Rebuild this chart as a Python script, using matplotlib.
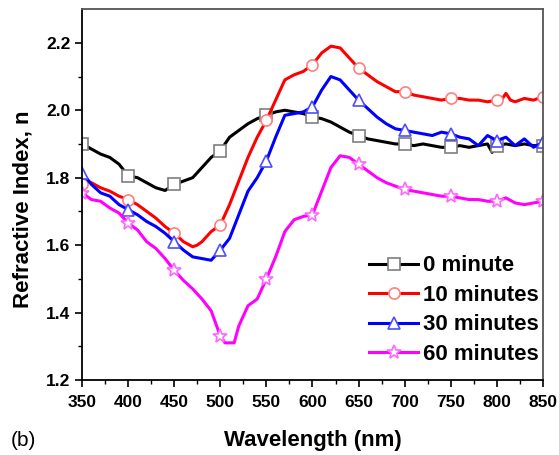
import matplotlib
matplotlib.use("Agg")
import matplotlib.pyplot as plt
import numpy as np

plt.rcParams['font.family'] = ['Liberation Sans', 'DejaVu Sans']

# refractive index vs wavelength for each exposure time
wl_0 = [350, 360, 370, 380, 390, 400, 410, 420, 430, 440, 450, 460, 470, 480, 490,
        500, 510, 520, 530, 540, 550, 560, 570, 580, 590, 600, 610, 620, 630, 640,
        650, 660, 670, 680, 690, 700, 710, 720, 730, 740, 750, 760, 770, 780, 790,
        795, 800, 810, 820, 830, 840, 850]
n_0 = [1.90, 1.885, 1.87, 1.86, 1.84, 1.805, 1.80, 1.785, 1.77, 1.762, 1.78, 1.79,
       1.80, 1.83, 1.86, 1.88, 1.92, 1.94, 1.96, 1.975, 1.985, 1.995, 2.00, 1.995,
       1.99, 1.98, 1.975, 1.965, 1.95, 1.935, 1.925, 1.915, 1.91, 1.905, 1.90, 1.90,
       1.895, 1.90, 1.895, 1.89, 1.89, 1.895, 1.89, 1.895, 1.90, 1.875, 1.895, 1.90,
       1.895, 1.90, 1.895, 1.895]

wl_10 = [350, 355, 360, 370, 380, 390, 400, 410, 420, 430, 440, 450, 460, 470, 475,
         480, 490, 500, 510, 520, 530, 540, 550, 560, 570, 580, 590, 600, 610, 620,
         630, 640, 650, 660, 670, 680, 690, 700, 710, 720, 730, 740, 750, 760, 770,
         780, 790, 800, 805, 810, 815, 820, 830, 840, 850]
n_10 = [1.78, 1.79, 1.785, 1.77, 1.76, 1.745, 1.735, 1.72, 1.70, 1.68, 1.655, 1.635,
        1.61, 1.595, 1.60, 1.61, 1.64, 1.66, 1.72, 1.79, 1.86, 1.92, 1.97, 2.03, 2.09,
        2.105, 2.115, 2.135, 2.17, 2.19, 2.185, 2.155, 2.125, 2.105, 2.085, 2.07,
        2.055, 2.055, 2.045, 2.04, 2.035, 2.03, 2.035, 2.035, 2.03, 2.03, 2.025, 2.03,
        2.03, 2.05, 2.03, 2.025, 2.035, 2.03, 2.04]

wl_30 = [350, 360, 370, 380, 390, 400, 410, 420, 430, 440, 450, 460, 470, 480, 490,
         500, 510, 520, 530, 540, 550, 560, 570, 580, 590, 600, 610, 620, 630, 640,
         650, 660, 670, 680, 690, 700, 710, 720, 730, 740, 750, 760, 770, 780, 790,
         800, 810, 820, 830, 840, 850]
n_30 = [1.815, 1.78, 1.755, 1.745, 1.72, 1.705, 1.69, 1.67, 1.655, 1.635, 1.61, 1.585,
        1.565, 1.56, 1.555, 1.585, 1.62, 1.69, 1.76, 1.80, 1.85, 1.92, 1.985, 1.99,
        1.995, 2.01, 2.06, 2.10, 2.09, 2.06, 2.03, 2.005, 1.98, 1.96, 1.945, 1.94,
        1.935, 1.93, 1.925, 1.935, 1.93, 1.92, 1.915, 1.895, 1.925, 1.91, 1.92, 1.895,
        1.915, 1.89, 1.905]

wl_60 = [350, 360, 370, 380, 390, 400, 410, 420, 430, 440, 450, 460, 470, 480, 490,
         500, 505, 515, 520, 530, 540, 550, 560, 570, 580, 590, 600, 610, 620, 630,
         640, 650, 660, 670, 680, 690, 700, 710, 720, 730, 740, 750, 760, 770, 780,
         790, 800, 810, 820, 830, 840, 850]
n_60 = [1.755, 1.735, 1.73, 1.71, 1.695, 1.665, 1.645, 1.61, 1.59, 1.56, 1.525, 1.495,
        1.47, 1.44, 1.405, 1.33, 1.31, 1.31, 1.36, 1.42, 1.44, 1.50, 1.565, 1.64,
        1.675, 1.685, 1.69, 1.76, 1.83, 1.865, 1.86, 1.84, 1.82, 1.80, 1.785, 1.775,
        1.765, 1.76, 1.755, 1.75, 1.745, 1.745, 1.74, 1.735, 1.735, 1.73, 1.73, 1.74,
        1.725, 1.72, 1.725, 1.73]

marker_wl = [350, 400, 450, 500, 550, 600, 650, 700, 750, 800, 850]

series = [
    (wl_0, n_0, '0 minute', 'black', 's', '#7f7f7f'),
    (wl_10, n_10, '10 minutes', 'red', 'o', '#ff7f7f'),
    (wl_30, n_30, '30 minutes', 'blue', '^', '#4d4dff'),
    (wl_60, n_60, '60 minutes', 'magenta', '*', '#ff66ff'),
]

fig = plt.figure(figsize=(5.59, 4.55), dpi=100)
ax = fig.add_axes([0.147, 0.165, 0.824, 0.815])

for wl, n, lab, col, mk, mec in series:
    wl = np.array(wl)
    idx = np.where(np.isin(wl, marker_wl))[0].tolist()
    ms = 10.5 if mk == '*' else 8
    ax.plot(wl, n, color=col, lw=2.2, marker=mk, markevery=idx, ms=ms,
            mfc='white', mec=mec, mew=1.2, label=lab)

ax.set_xlim(350, 850)
ax.set_ylim(1.2, 2.3)
ax.set_xticks(np.arange(350, 851, 50))
ax.set_xticks(np.arange(375, 850, 50), minor=True)
ax.set_yticks([1.2, 1.4, 1.6, 1.8, 2.0, 2.2])
ax.set_yticks([1.3, 1.5, 1.7, 1.9, 2.1], minor=True)
ax.tick_params(which='major', direction='out', length=5, width=1.2,
               labelsize=12.5)
ax.tick_params(axis='x', which='major', pad=6)
ax.tick_params(which='minor', direction='out', length=3, width=1.0)
for t in ax.get_xticklabels() + ax.get_yticklabels():
    t.set_fontweight('bold')

for side in ['left', 'bottom']:
    ax.spines[side].set_linewidth(1.3)
for side in ['top', 'right']:
    ax.spines[side].set_linewidth(1.3)
    ax.spines[side].set_color('#555555')

ax.set_xlabel('Wavelength (nm)', fontsize=16, fontweight='bold')
ax.set_ylabel('Refractive Index, n', fontsize=16, fontweight='bold')
ax.xaxis.set_label_coords(0.5, -0.135)
ax.yaxis.set_label_coords(-0.106, 0.46)

leg = ax.legend(loc='lower right', bbox_to_anchor=(1.01, 0.017), frameon=False,
                prop={'weight': 'bold', 'size': 16}, handlelength=2.2,
                handletextpad=0.2, labelspacing=0.38, borderaxespad=0.0)

fig.text(0.02, 0.02, '(b)', fontsize=15)

fig.savefig('out.png', dpi=100)
